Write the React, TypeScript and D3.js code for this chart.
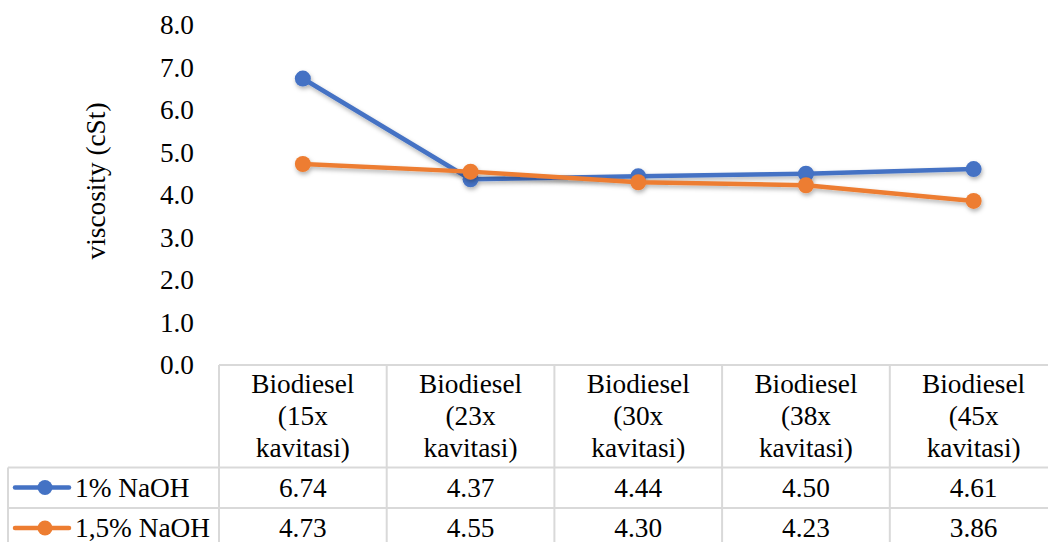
import React from "react";
import * as d3 from "d3";

const categories = [
  ["Biodiesel", "(15x", "kavitasi)"],
  ["Biodiesel", "(23x", "kavitasi)"],
  ["Biodiesel", "(30x", "kavitasi)"],
  ["Biodiesel", "(38x", "kavitasi)"],
  ["Biodiesel", "(45x", "kavitasi)"],
];
const seriesNames = ["1% NaOH", "1,5% NaOH"];
const naoh1 = [6.74, 4.37, 4.44, 4.5, 4.61];
const naoh15 = [4.73, 4.55, 4.3, 4.23, 3.86];
const yTicks = [0, 1, 2, 3, 4, 5, 6, 7, 8];
const colors = ["#4472C4", "#ED7D31"];

const W = 1048;
const H = 542;
const FF = "Liberation Serif";
const FS = 27.3;

export default function App() {
  const plotLeft = 219;
  const colW = 167.7;
  const plotRight = plotLeft + colW * categories.length;
  const x = d3
    .scaleBand<number>()
    .domain(categories.map((_, i) => i))
    .range([plotLeft, plotRight]);
  const y = d3.scaleLinear().domain([0, 8]).range([365, 25]);
  const cx = (i: number) => (x(i) as number) + x.bandwidth() / 2;

  const series = [naoh1, naoh15];
  const line = d3
    .line<number>()
    .x((_, i) => cx(i))
    .y((d) => y(d));

  const headerTop = 365;
  const row1Top = 467.5;
  const row2Top = 508;
  const rowH = 40.5;
  const legendLeft = 8;
  const border = "#d9d9d9";
  const ts = { fontFamily: `"${FF}"` };

  return (
    <svg width={W} height={H} style={{ position: "absolute", left: 0, top: 0 }}>
      <defs>
        <filter id="sh" x="-50%" y="-50%" width="200%" height="200%">
          <feDropShadow dx="1" dy="2.5" stdDeviation="2" floodColor="#000" floodOpacity="0.3" />
        </filter>
      </defs>
      <rect width={W} height={H} fill="#fff" />

      {yTicks.map((t) => (
        <text key={t} x={194} y={y(t) + 9} textAnchor="end" fontSize={FS} style={ts} fill="#000">
          {t.toFixed(1)}
        </text>
      ))}
      <text transform={`translate(105,181) rotate(-90)`} textAnchor="middle" fontSize={FS} style={ts} fill="#000">
        viscosity (cSt)
      </text>

      <g stroke={border} strokeWidth={2} fill="none">
        <line x1={plotLeft} x2={plotRight} y1={headerTop} y2={headerTop} />
        <line x1={legendLeft} x2={plotRight} y1={row1Top} y2={row1Top} />
        <line x1={legendLeft} x2={plotRight} y1={row2Top} y2={row2Top} />
        <line x1={legendLeft} x2={plotRight} y1={row2Top + rowH} y2={row2Top + rowH} />
        <line x1={legendLeft} x2={legendLeft} y1={row1Top} y2={H + 5} />
        {categories.map((_, i) => (
          <line key={i} x1={x(i) as number} x2={x(i) as number} y1={headerTop} y2={H + 5} />
        ))}
        <line x1={plotRight} x2={plotRight} y1={headerTop} y2={H + 5} />
      </g>

      {categories.map((lines, i) =>
        lines.map((l, j) => (
          <text key={`${i}-${j}`} x={cx(i)} y={393 + j * 32} textAnchor="middle" fontSize={FS} style={ts} fill="#000">
            {l}
          </text>
        ))
      )}

      {series.map((s, si) =>
        s.map((v, i) => (
          <text
            key={`${si}-${i}`}
            x={cx(i)}
            y={(si === 0 ? row1Top : row2Top) + 29}
            textAnchor="middle"
            fontSize={FS}
            style={ts}
            fill="#000"
          >
            {v.toFixed(2)}
          </text>
        ))
      )}

      {seriesNames.map((n, si) => {
        const top = si === 0 ? row1Top : row2Top;
        const cy = top + 20;
        return (
          <g key={n}>
            <line x1={15} x2={69} y1={cy} y2={cy} stroke={colors[si]} strokeWidth={4.5} strokeLinecap="round" />
            <circle cx={45} cy={cy} r={7.5} fill={colors[si]} />
            <text x={75} y={top + 29} fontSize={FS} style={ts} fill="#000">
              {n}
            </text>
          </g>
        );
      })}

      {series.map((s, si) => (
        <g key={si} filter="url(#sh)">
          <path d={line(s) || ""} fill="none" stroke={colors[si]} strokeWidth={4.5} strokeLinejoin="round" strokeLinecap="round" />
          {s.map((v, i) => (
            <circle key={i} cx={cx(i)} cy={y(v)} r={8} fill={colors[si]} />
          ))}
        </g>
      ))}
    </svg>
  );
}
